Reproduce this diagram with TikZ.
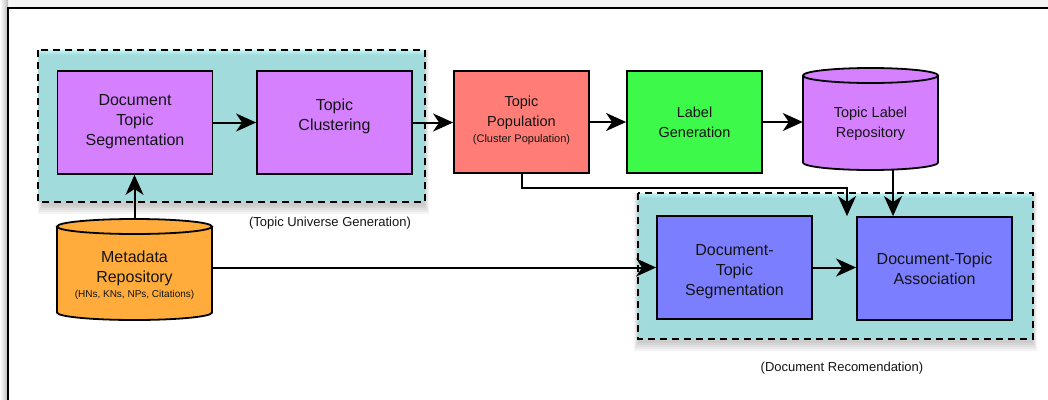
\documentclass[tikz,border=0pt]{standalone}
\usepackage{fontspec}
\setmainfont{Liberation Sans}
\usetikzlibrary{arrows.meta}
\definecolor{cgroup}{HTML}{A1DBDB}
\definecolor{cglow}{HTML}{C2F6F6}
\definecolor{cpurple}{HTML}{D580FF}
\definecolor{csalmon}{HTML}{FF7D76}
\definecolor{cgreen}{HTML}{3DF94A}
\definecolor{corange}{HTML}{FFAC3C}
\definecolor{cblue}{HTML}{7B7FFF}
\definecolor{ctext}{HTML}{141414}
\tikzset{
  procbox/.style={draw, line width=1.8pt, inner sep=0pt, minimum width=155pt, minimum height=103pt},
  topbox/.style={draw, line width=1.8pt, inner sep=0pt, minimum width=135pt, minimum height=102pt},
  groupbox/.style={draw, line width=1.7pt, dash pattern=on 7pt off 5pt},
  bigtxt/.style={align=center, inner sep=0pt, text=ctext, font=\fontsize{16}{20}\selectfont},
  midtxt/.style={align=center, inner sep=0pt, text=ctext, font=\fontsize{14.5}{20}\selectfont},
  smalltxt/.style={inner sep=0pt, text=ctext, font=\fontsize{11}{13}\selectfont},
  tinytxt/.style={inner sep=0pt, text=ctext, font=\fontsize{10}{12}\selectfont},
  captxt/.style={inner sep=0pt, text=ctext, font=\fontsize{13}{15}\selectfont},
  cylshape/.style={draw, line width=1.8pt},
  arr/.style={-{Stealth[length=20pt,width=18pt,inset=6pt]}, line width=2pt},
}
\begin{document}
\begin{tikzpicture}[x=1pt,y=-1pt]
\useasboundingbox (0,0) rectangle (1048,399);
% outer frame with shadow
\fill[gray!8] (8,0) rectangle (1048,7);
\shade[left color=white, right color=gray!55] (0,0) rectangle (8,399);
\draw[line width=1.6pt] (1055,8) -- (8,8) -- (8,405);

% group shadows
\foreach \k in {0,...,4} {
  \fill[black,opacity=0.045] (38+\k,50) rectangle (429-\k,214-2*\k);
  \fill[black,opacity=0.045] (634+\k,193) rectangle (1037-\k,351-2*\k);
}
% groups: fill with a light glow at the top
\fill[cgroup] (38,50) rectangle (425,202);
\fill[cgroup] (638,193) rectangle (1033,339);
\foreach \k/\p in {0/100,1/80,2/60,3/40,4/20} {
  \fill[cglow!\p!cgroup] (38,50+\k) rectangle (425,51+\k);
  \fill[cglow!\p!cgroup] (638,193+\k) rectangle (1033,194+\k);
}
\draw[groupbox] (38,50) rectangle (425,202);
\draw[groupbox] (638,193) rectangle (1033,339);
\node[captxt] (capA) at (330,223) {(Topic Universe Generation)};
\node[captxt] (capB) at (842,368) {(Document Recomendation)};

% process boxes
\node[procbox, fill=cpurple] (dts) at (135,122.5) {};
\node[bigtxt] (dtsT) at (135,122) {Document\\Topic\\Segmentation};
\node[procbox, fill=cpurple] (tc) at (334.5,122.5) {};
\node[bigtxt] (tcT) at (334.5,116) {Topic\\Clustering};
\node[topbox, fill=csalmon] (tp) at (521.5,122) {};
\node[midtxt] (tpT) at (521.5,113) {Topic\\Population};
\node[smalltxt] (tpS) at (521.5,140) {(Cluster Population)};
\node[topbox, fill=cgreen] (lg) at (694.5,122) {};
\node[midtxt] (lgT) at (694.5,122.5) {Label\\Generation};
\node[procbox, fill=cblue] (dtseg) at (734.5,267.5) {};
\node[bigtxt] (dtsegT) at (734.5,271.5) {Document-\\Topic\\Segmentation};
\node[procbox, fill=cblue] (dta) at (934.5,268.5) {};
\node[bigtxt] (dtaT) at (934.5,269) {Document-Topic\\Association};

% cylinders
\fill[cpurple] (803,75.5) -- (803,162.5) arc[start angle=180,end angle=0,x radius=67.5,y radius=7.5] -- (938,75.5) -- cycle;
\draw[cylshape] (803,75.5) -- (803,162.5) arc[start angle=180,end angle=0,x radius=67.5,y radius=7.5] -- (938,75.5);
\draw[cylshape, fill=cpurple] (870.5,75.5) ellipse[x radius=67.5, y radius=7.5];
\node[minimum width=135pt, minimum height=102pt, inner sep=0pt] (tlr) at (870.5,119) {};
\node[midtxt] (tlrT) at (870.5,124) {Topic Label\\Repository};

\fill[corange] (57,226.5) -- (57,312.5) arc[start angle=180,end angle=0,x radius=77.5,y radius=7.5] -- (212,226.5) -- cycle;
\draw[cylshape] (57,226.5) -- (57,312.5) arc[start angle=180,end angle=0,x radius=77.5,y radius=7.5] -- (212,226.5);
\draw[cylshape, fill=corange] (134.5,226.5) ellipse[x radius=77.5, y radius=7.5];
\node[minimum width=155pt, minimum height=101pt, inner sep=0pt] (meta) at (134.5,269.5) {};
\node[bigtxt] (metaT) at (134.5,268.5) {Metadata\\Repository};
\node[tinytxt] (metaS) at (134.5,295) {(HNs, KNs, NPs, Citations)};

% connectors
\draw[arr] (meta.north) -- (meta.north |- dts.south);
\draw[arr] (dts.east) -- (dts.east -| tc.west);
\draw[arr] (tc.east) -- (tc.east -| tp.west);
\draw[arr] (tp.east) -- (tp.east -| lg.west);
\draw[arr] (lg.east) -- (lg.east -| tlr.west);
\draw[arr] (tp.south) -- ++(0,14) -| ([xshift=-87.5pt]dta.north);
\draw[arr] ([xshift=22.5pt]tlr.south) -- ([xshift=22.5pt]tlr.south |- dta.north);
\draw[arr] (meta.east |- dtseg.west) -- (dtseg.west);
\draw[arr] (dtseg.east) -- (dtseg.east -| dta.west);
\end{tikzpicture}
\end{document}
